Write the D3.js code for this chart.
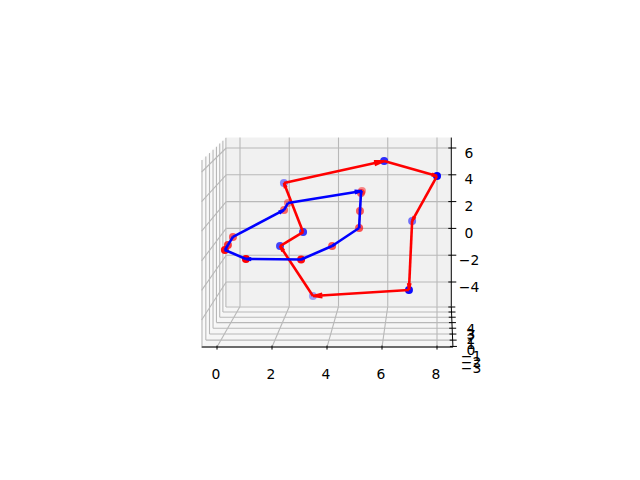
<!DOCTYPE html>
<html>
<head>
<meta charset="utf-8">
<script src="https://cdn.jsdelivr.net/npm/d3@7"></script>
<style>
html, body { margin: 0; padding: 0; background: #fff; }
text { font-family: "DejaVu Sans", sans-serif; font-size: 13.89px; fill: #000; }
</style>
</head>
<body>
<svg id="chart" width="640" height="480"></svg>
<script>
// Tick labels on the three axes
var xTicks = [0, 2, 4, 6, 8];
var yTicks = [4, 3, 2, 1, 0, -1, -2, -3];
var zTicks = [6, 4, 2, 0, -2, -4];

// Path drawn in red, with blue dots
var redX = [1.88, 6.01, 8.00, 7.02, 6.97, 2.97, 2.00, 2.92];
var redY = [3, -1, -3, 2, -2.5, 4, 0, -0.5];
var redZ = [3.66, 6.23, 5.70, 1.16, -2.20, -5.01, -0.02, 1.12];

// Path drawn in blue, with red dots
var blueX = [0.08, 2.02, 2.04, 5.00, 5.05, 5.01, 5.00, 3.96, 3.01, 1.04, 0.21, 0.07];
var blueY = [1, 1.5, 3, 3, 1, 1, 0.5, 0.5, -2.5, -3, -2.5, -0.5];
var blueZ = [0.31, 2.10, 2.19, 3.08, 3.46, 2.17, 1.10, -0.18, -0.12, 0.09, 0.53, 0.21];

var xLim = [-0.56, 8.58];
var yLim = [-3.1, 4.1];
var zLim = [-5.83, 6.78];

// Screen scales for the front and the back of the box
var xFront = d3.scaleLinear().domain([0, 8]).range([217, 437]);
var xBack = d3.scaleLinear().domain([0, 8]).range([240, 437]);
var zFront = d3.scaleLinear().domain([-4, 6]).range([320, 172]);
var zBack = d3.scaleLinear().domain([-4, 6]).range([282, 148]);
var depth = d3.scaleLinear().domain(yLim).range([0, 1]);
var alpha = d3.scaleLinear().domain([4, -3]).range([0.35, 1]);

var perspective = function(y) {
	// Near rows are spaced wider than far rows.
	var d = depth(y);
	return 1.15 * d / (1 + 0.15 * d);
};

var project = function(x, y, z) {
	var s = perspective(y);
	return [
		xFront(x) + (xBack(x) - xFront(x)) * s,
		zFront(z) + (zBack(z) - zFront(z)) * s
	];
};

var svg = d3.select('#chart');
var line = d3.line();

var seg = function(g, a, b, color, width) {
	return g.append('path')
		.attr('d', line([a, b]))
		.attr('fill', 'none')
		.attr('stroke', color)
		.attr('stroke-width', width);
};

// Panes
var panes = svg.append('g');
var pane = function(pts, color) {
	panes.append('path').attr('d', line(pts) + 'Z').attr('fill', color);
};
pane([project(xLim[0], yLim[0], zLim[0]), project(xLim[0], yLim[1], zLim[0]),
	project(xLim[0], yLim[1], zLim[1]), project(xLim[0], yLim[0], zLim[1])], '#f9f9f9');
pane([project(xLim[0], yLim[1], zLim[0]), project(xLim[1], yLim[1], zLim[0]),
	project(xLim[1], yLim[1], zLim[1]), project(xLim[0], yLim[1], zLim[1])], '#f1f1f1');
pane([project(xLim[0], yLim[0], zLim[0]), project(xLim[1], yLim[0], zLim[0]),
	project(xLim[1], yLim[1], zLim[0]), project(xLim[0], yLim[1], zLim[0])], '#f6f6f6');

// Grid
var grid = svg.append('g');
var gridColor = '#b8b8b8';
xTicks.forEach(function(x) {
	seg(grid, project(x, yLim[0], zLim[0]), project(x, yLim[1], zLim[0]), gridColor, 1.1);
	seg(grid, project(x, yLim[1], zLim[0]), project(x, yLim[1], zLim[1]), gridColor, 1.1);
});
yTicks.forEach(function(y) {
	seg(grid, project(xLim[1], y, zLim[0]), project(xLim[0], y, zLim[0]), gridColor, 1.1);
	seg(grid, project(xLim[0], y, zLim[0]), project(xLim[0], y, zLim[1]), gridColor, 1.1);
});
zTicks.forEach(function(z) {
	seg(grid, project(xLim[0], yLim[0], z), project(xLim[0], yLim[1], z), gridColor, 1.1);
	seg(grid, project(xLim[0], yLim[1], z), project(xLim[1], yLim[1], z), gridColor, 1.1);
});

// Axis lines, ticks and labels
var axes = svg.append('g');
seg(axes, project(xLim[0], yLim[0], zLim[0]), project(xLim[1], yLim[0], zLim[0]), '#000', 1);
seg(axes, project(xLim[1], yLim[0], zLim[0]), project(xLim[1], yLim[1], zLim[0]), '#000', 1);
seg(axes, project(xLim[1], yLim[1], zLim[0]), project(xLim[1], yLim[1], zLim[1]), '#000', 1);

var label = function(text, x, y) {
	axes.append('text')
		.attr('x', x)
		.attr('y', y)
		.attr('text-anchor', 'middle')
		.attr('dominant-baseline', 'central')
		.text(String(text).replace('-', '\u2212'));
};

xTicks.forEach(function(x) {
	var p = project(x, yLim[0], zLim[0]);
	seg(axes, [p[0], p[1] - 1.5], [p[0], p[1] + 2.5], '#000', 1);
	label(x, p[0] - 1, 373.5);
});
yTicks.forEach(function(y) {
	var p = project(xLim[1], y, zLim[0]);
	seg(axes, [p[0] - 3, p[1]], [p[0] + 4, p[1]], '#000', 1);
	label(y, 471, p[1] + 21.5);
});
zTicks.forEach(function(z) {
	var p = project(xLim[1], yLim[1], z);
	seg(axes, [p[0] - 3, p[1]], [p[0] + 5, p[1]], '#000', 1);
	label(z, 469, p[1] + 4.5);
});

var drawDots = function(xs, ys, zs, color) {
	var order = d3.range(xs.length).sort(function(a, b) { return ys[b] - ys[a]; });
	svg.append('g')
		.selectAll('circle')
		.data(order)
		.enter()
		.append('circle')
		.attr('cx', function(i) { return project(xs[i], ys[i], zs[i])[0]; })
		.attr('cy', function(i) { return project(xs[i], ys[i], zs[i])[1]; })
		.attr('r', 4)
		.attr('fill', color)
		.attr('fill-opacity', function(i) { return alpha(ys[i]); });
};

var drawArrows = function(xs, ys, zs, color) {
	// One arrow from each point to the next, closing the loop. The head is a tenth of the
	// arrow's length, with narrow barbs.
	var g = svg.append('g');
	xs.forEach(function(x, i) {
		var j = (i + 1) % xs.length;
		var a = project(x, ys[i], zs[i]);
		var b = project(xs[j], ys[j], zs[j]);
		var dx = a[0] - b[0];
		var dy = a[1] - b[1];
		var cos = Math.cos(Math.PI / 15);
		var sin = Math.sin(Math.PI / 15);
		var l = [b[0] + 0.1 * (dx * cos - dy * sin), b[1] + 0.1 * (dx * sin + dy * cos)];
		var r = [b[0] + 0.1 * (dx * cos + dy * sin), b[1] + 0.1 * (dy * cos - dx * sin)];
		seg(g, a, b, color, 2.6);
		seg(g, l, b, color, 2);
		seg(g, r, b, color, 2);
	});
};

drawDots(redX, redY, redZ, '#0000ff');
drawDots(blueX, blueY, blueZ, '#ff0000');
drawArrows(redX, redY, redZ, '#ff0000');
drawArrows(blueX, blueY, blueZ, '#0000ff');
</script>
</body>
</html>
